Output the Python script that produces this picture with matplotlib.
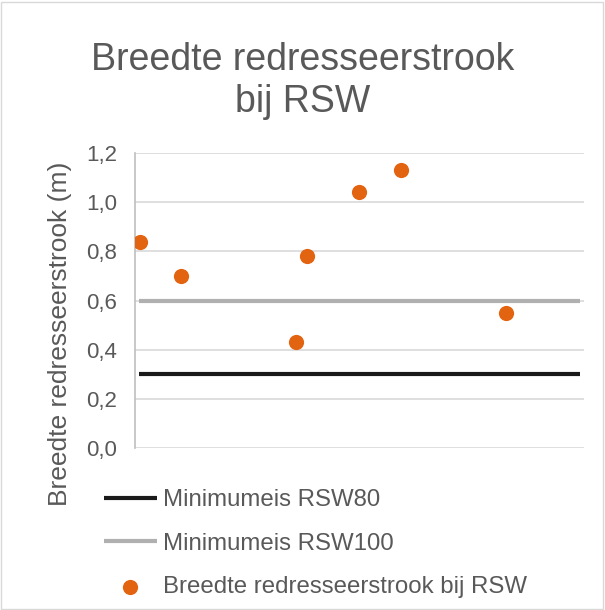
import matplotlib.pyplot as plt
from matplotlib.patches import Rectangle

plt.rcParams['font.family'] = ['Liberation Sans', 'DejaVu Sans']

# data
x_points = [0.12, 1.13, 3.94, 4.21, 5.49, 6.52, 9.09]
breedte = [0.84, 0.70, 0.43, 0.78, 1.04, 1.13, 0.55]
x_line = [0.1, 10.9]
rsw80 = [0.3, 0.3]
rsw100 = [0.6, 0.6]
yticks = [0.0, 0.2, 0.4, 0.6, 0.8, 1.0, 1.2]

txt = '#595959'
fig = plt.figure(figsize=(6.05, 6.1), dpi=100)
ax = fig.add_axes([135 / 605, 1 - 448 / 610, 449 / 605, 295 / 610])

ax.plot(x_line, rsw80, color='#1a1a1a', linewidth=3, label='Minimumeis RSW80', solid_capstyle='butt')
ax.plot(x_line, rsw100, color='#b0b0b0', linewidth=3, label='Minimumeis RSW100', solid_capstyle='butt')
ax.scatter(x_points, breedte, s=120, color='#e36410', zorder=3, linewidths=0,
           label='Breedte redresseerstrook bij RSW')

ax.set_xlim(0, 11)
ax.set_ylim(0, 1.2)
ax.set_yticks(yticks)
ax.set_yticklabels([('%.1f' % v).replace('.', ',') for v in yticks], color=txt, fontsize=16)
ax.set_xticks([])
ax.yaxis.grid(True, color='#d9d9d9', linewidth=1.2)
ax.set_axisbelow(True)
ax.tick_params(axis='y', length=0, pad=13)
for s in ['top', 'right', 'bottom']:
    ax.spines[s].set_visible(False)
ax.spines['left'].set_color('#bfbfbf')
ax.spines['left'].set_linewidth(1.2)

fig.text(60 / 605, 1 - 334 / 610, 'Breedte redresseerstrook (m)', rotation=90,
         ha='center', va='center', fontsize=19, color=txt)

fig.text(0.5, 1 - 81 / 610, 'Breedte redresseerstrook\nbij RSW', ha='center', va='center',
         fontsize=27, color=txt, linespacing=1.2)

leg = fig.legend(loc='upper left', bbox_to_anchor=(104 / 605, 1 - 489 / 610), frameon=False,
                 fontsize=17.3, labelcolor=txt, handlelength=2.2, handletextpad=0.25,
                 labelspacing=0.9, borderaxespad=0, borderpad=0)

fig.patches.append(Rectangle((0.002, 0.002), 0.994, 0.994, transform=fig.transFigure,
                             fill=False, edgecolor='#d9d9d9', linewidth=1))

fig.savefig('out.png', dpi=100)
